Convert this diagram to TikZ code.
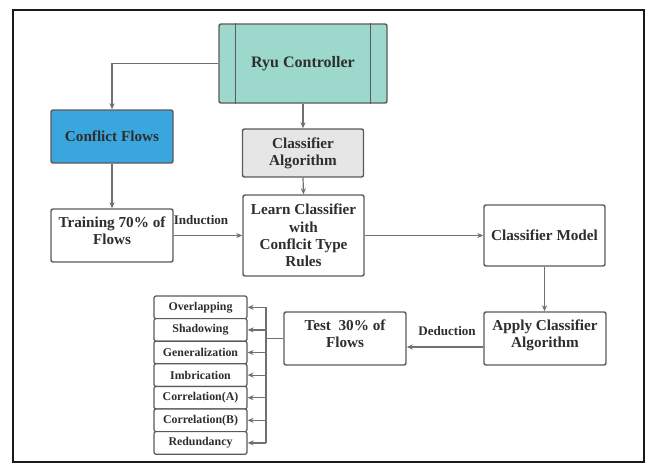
\documentclass[tikz,border=0pt]{standalone}
\usepackage{fontspec}
\setmainfont{Liberation Serif}
\usetikzlibrary{arrows.meta,calc}
\definecolor{teal1}{HTML}{9DD8CC}
\definecolor{blue1}{HTML}{3AA6DE}
\definecolor{gray1}{HTML}{E6E6E6}
\definecolor{edge}{HTML}{5A5A5A}
\definecolor{linec}{HTML}{707070}
\definecolor{txt}{HTML}{2E2E2E}
\begin{document}
\begin{tikzpicture}[x=0.75pt,y=-0.75pt,
  wh/.style 2 args={minimum width=#1*0.75pt, minimum height=#2*0.75pt},
  box/.style={draw=edge, line width=1.1pt, rounded corners=1.5pt, fill=white, text=txt,
    font=\bfseries\fontsize{11.4}{13}\selectfont, align=center, inner sep=0pt},
  lbox/.style={box, line width=0.9pt, font=\bfseries\fontsize{8.9}{10}\selectfont, wh={93}{22.6}},
  lab/.style={text=txt, font=\bfseries\fontsize{9.8}{11}\selectfont, inner sep=0pt},
  conn/.style={draw=linec, line width=0.9pt},
  arr/.style={conn, -{Stealth[length=4.5pt,width=3.8pt]}}]
\useasboundingbox (0,0) rectangle (645,464);
\draw[line width=1.5pt, black!90] (13,10) rectangle (643.5,461.5);

% main nodes
\node[box, fill=teal1, wh={168}{79}, font=\bfseries\fontsize{12}{14}\selectfont] (ryu) at (303,63.5) {Ryu Controller};
\draw[draw=edge, line width=1.1pt] ([xshift=17*0.75pt]ryu.north west) -- ([xshift=17*0.75pt]ryu.south west);
\draw[draw=edge, line width=1.1pt] ([xshift=-17*0.75pt]ryu.north east) -- ([xshift=-17*0.75pt]ryu.south east);

\node[box, fill=blue1, wh={122}{53}] (cf) at (112,136.5) {Conflict Flows};
\node[box, fill=gray1, wh={121}{48}] (ca) at (303,153) {Classifier\\Algorithm};
\node[box, wh={121}{81}] (learn) at (303.5,235.5) {Learn Classifier\\with\\Conflcit Type\\Rules};
\node[box, wh={122}{53}] (train) at (112,235.5) {Training 70\% of\\Flows\\[-5.5pt]};
\node[box, wh={121}{61}] (cm) at (544.5,235.5) {Classifier Model};
\node[box, wh={122}{53}] (apply) at (545,338.5) {Apply Classifier\\Algorithm\\[-5.5pt]};
\node[box, wh={122}{53}] (test) at (345,338.5) {Test~~30\% of\\Flows\\[-5.5pt]};

% list of conflict types
\node[lbox] (o1) at (200.5,307.3) {Overlapping};
\node[lbox] (o2) at (200.5,329.9) {Shadowing};
\node[lbox] (o3) at (200.5,352.5) {Generalization};
\node[lbox] (o4) at (200.5,375.1) {Imbrication};
\node[lbox] (o5) at (200.5,397.7) {Correlation(A)};
\node[lbox] (o6) at (200.5,420.3) {Correlation(B)};
\node[lbox] (o7) at (200.5,442.9) {Redundancy};

% labels
\node[lab] (ind) at (201,220) {Induction};
\node[lab] (ded) at (447,331) {Deduction};

% connectors
\draw[arr] (ryu.west) -| (cf.north);
\draw[arr] (ryu.south) -- (ca.north);
\draw[arr] (ca.south) -- (learn.north);
\draw[arr] (cf.south) -- (train.north);
\draw[arr] (train.east) -- (train.east -| learn.west);
\draw[arr] (learn.east) -- (learn.east -| cm.west);
\draw[arr] (cm.south) -- (cm.south |- apply.north);
\draw[arr] ([yshift=-8.5*0.75pt]apply.west) -- ([yshift=-8.5*0.75pt]apply.west -| test.east);

\coordinate (bx) at (266,338.5);
\draw[conn] (test.west) -- (bx);
\draw[conn, rounded corners=2pt] (bx |- o1.east) -- (bx |- o7.east);
\foreach \i in {1,...,7}{
  \draw[arr] (bx |- o\i.east) -- (o\i.east);
}
\end{tikzpicture}
\end{document}
